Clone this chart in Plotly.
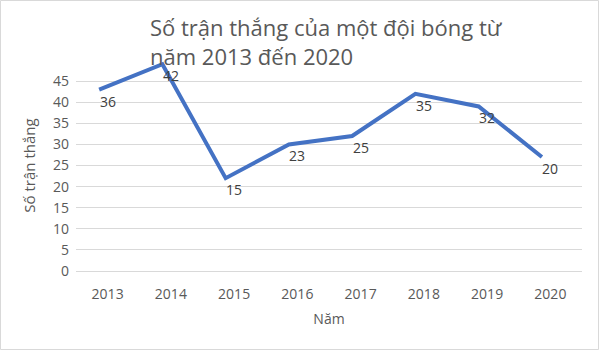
import plotly.graph_objects as go

years = ["2013", "2014", "2015", "2016", "2017", "2018", "2019", "2020"]
line_values = [43, 49, 22, 30, 32, 42, 39, 27]
label_values = [36, 42, 15, 23, 25, 35, 32, 20]
y_ticks = [0, 5, 10, 15, 20, 25, 30, 35, 40, 45]

W, H = 600, 350
ML, MR, MT, MB = 76, 18, 60, 79
pw, ph = W - ML - MR, H - MT - MB

fig = go.Figure()
fig.add_trace(go.Scatter(
    x=list(range(len(years))), y=line_values, mode="lines",
    line=dict(color="#4472C4", width=4), xaxis="x2", yaxis="y",
    hoverinfo="skip", cliponaxis=False))
# invisible trace to anchor categorical axis
fig.add_trace(go.Scatter(x=years, y=label_values, mode="markers",
                         marker=dict(opacity=0), hoverinfo="skip"))

for i, lv in enumerate(label_values):
    fig.add_annotation(x=i, y=lv, xref="x", yref="y", text=str(lv),
                       showarrow=False, yshift=18,
                       font=dict(size=14, color="#404040", family="Open Sans"))

fig.add_annotation(xref="paper", yref="paper",
                   x=(148 - ML) / pw, y=(H - 10 - MB) / ph,
                   xanchor="left", yanchor="top", align="left",
                   text="Số trận thắng của một đội bóng từ<br>năm 2013 đến 2020",
                   showarrow=False,
                   font=dict(size=22, color="#595959", family="Open Sans"))

fig.add_shape(type="rect", xref="paper", yref="paper",
              x0=-ML / pw + 0.5 / pw, x1=1 + (MR - 1.5) / pw,
              y0=-MB / ph + 0.5 / ph, y1=1 + (MT - 0.5) / ph,
              line=dict(color="#d9d9d9", width=1))

fig.update_layout(
    width=W, height=H, margin=dict(l=ML, r=MR, t=MT, b=MB),
    paper_bgcolor="white", plot_bgcolor="white", showlegend=False,
    font=dict(family="Open Sans", color="#595959", size=14),
    xaxis=dict(type="category", range=[-0.5, 7.5], showgrid=False,
               showline=True, linecolor="#d9d9d9", ticks="",
               ticklabelstandoff=10,
               tickfont=dict(size=14, color="#595959"),
               title=dict(text="Năm", font=dict(size=14, color="#595959"),
                          standoff=12)),
    xaxis2=dict(overlaying="x", range=[-0.366, 7.634], visible=False),
    yaxis=dict(range=[0, 50], tickvals=y_ticks, showgrid=True,
               gridcolor="#d9d9d9", zeroline=False, ticks="",
               ticklabelstandoff=6,
               tickfont=dict(size=14, color="#595959"),
               title=dict(text="Số trận thắng",
                          font=dict(size=15, color="#595959"), standoff=13)),
)

fig.write_html("out.html")
